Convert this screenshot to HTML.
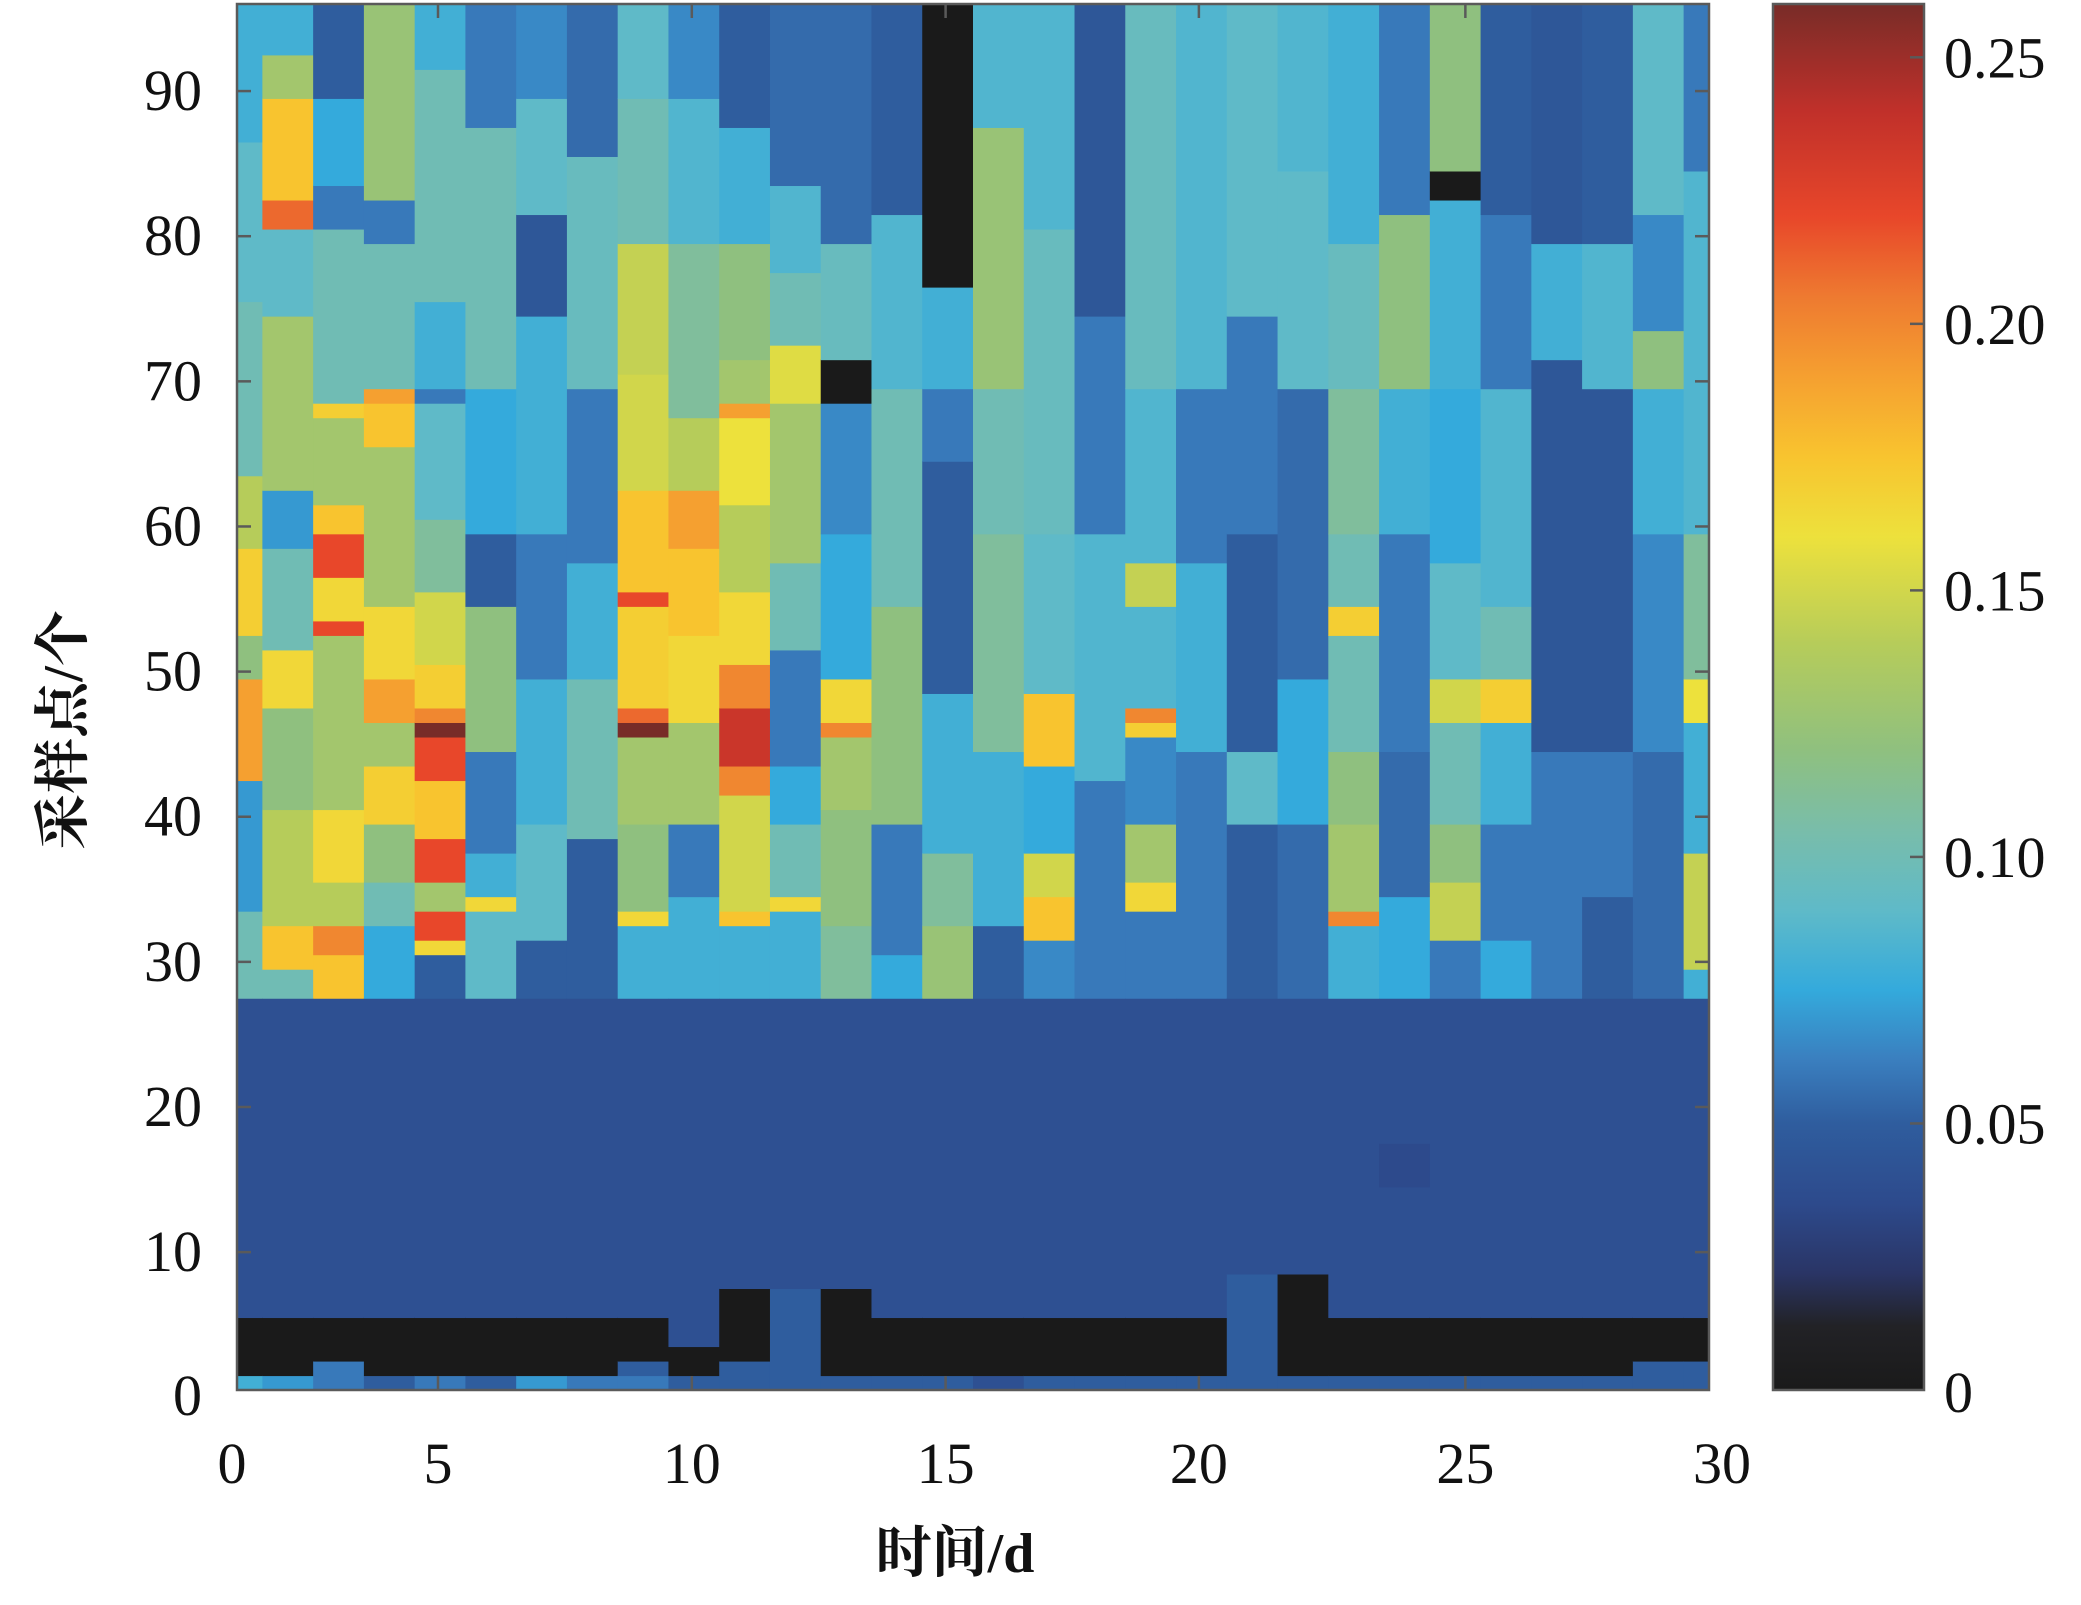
<!DOCTYPE html>
<html><head><meta charset="utf-8">
<style>
html,body{margin:0;padding:0;background:#fff;}
svg{display:block;}
text{font-family:"Liberation Serif","Noto Serif CJK SC",serif;fill:#111;}
</style></head>
<body>
<svg id="chart" width="2081" height="1605" viewBox="0 0 2081 1605" xmlns="http://www.w3.org/2000/svg">
<g id="cells"></g>
<g id="axes"></g>
<g id="cbar"></g>
<text x="955" y="1572" font-size="56" text-anchor="middle" font-family="Liberation Serif, Noto Serif CJK SC, serif" font-weight="bold">时间/d</text>
<text x="0" y="0" font-size="56" text-anchor="middle" font-weight="bold" transform="translate(82,730) rotate(-90)">采样点/个</text>
</svg>
<script>
// ---- data ----
const xTickValues = [0, 3.96, 8.96, 13.96, 18.95, 24.2, 29];
const xTickLabels = ['0','5','10','15','20','25','30'];
const yTickValues = [10,20,30,40,50,60,70,80,90];
const yTickLabels = ['10','20','30','40','50','60','70','80','90'];
const cbarTickValues = [0,0.05,0.10,0.15,0.20,0.25];
const cbarTickLabels = ['0','0.05','0.10','0.15','0.20','0.25'];
// per column runs: [fromRow, toRow, value]
const columnRuns = [
[[1,1,0.08],[2,5,0],[6,27,0.04],[28,33,0.1],[34,42,0.07],[43,49,0.19],[50,52,0.12],[53,58,0.17],[59,63,0.14],[64,75,0.1],[76,86,0.09],[87,96,0.08]],
[[1,1,0.07],[2,5,0],[6,27,0.04],[28,29,0.1],[30,32,0.175],[33,40,0.14],[41,47,0.12],[48,51,0.165],[52,58,0.1],[59,62,0.07],[63,74,0.13],[75,80,0.09],[81,82,0.21],[83,89,0.175],[90,92,0.13],[93,96,0.08]],
[[1,2,0.06],[3,5,0],[6,27,0.04],[28,30,0.175],[31,32,0.2],[33,35,0.14],[36,40,0.165],[41,52,0.13],[53,53,0.22],[54,56,0.165],[57,59,0.22],[60,61,0.175],[62,67,0.13],[68,68,0.17],[69,80,0.1],[81,83,0.06],[84,89,0.075],[90,96,0.05]],
[[1,1,0.05],[2,5,0],[6,27,0.04],[28,32,0.075],[33,35,0.1],[36,39,0.12],[40,43,0.17],[44,46,0.13],[47,49,0.19],[50,54,0.165],[55,65,0.13],[66,68,0.175],[69,69,0.19],[70,79,0.1],[80,82,0.06],[83,96,0.125]],
[[1,1,0.06],[2,5,0],[6,27,0.04],[28,30,0.05],[31,31,0.165],[32,33,0.22],[34,35,0.13],[36,38,0.22],[39,42,0.175],[43,45,0.22],[46,46,0.26],[47,47,0.2],[48,50,0.17],[51,55,0.15],[56,60,0.11],[61,68,0.09],[69,69,0.06],[70,75,0.08],[76,91,0.1],[92,96,0.08]],
[[1,1,0.05],[2,5,0],[6,27,0.04],[28,33,0.09],[34,34,0.165],[35,37,0.08],[38,44,0.06],[45,54,0.12],[55,59,0.05],[60,69,0.075],[70,87,0.1],[88,96,0.06]],
[[1,1,0.07],[2,5,0],[6,27,0.04],[28,31,0.05],[32,39,0.09],[40,49,0.08],[50,59,0.06],[60,74,0.08],[75,81,0.045],[82,89,0.09],[90,96,0.065]],
[[1,1,0.06],[2,5,0],[6,27,0.04],[28,38,0.05],[39,49,0.1],[50,57,0.08],[58,69,0.06],[70,85,0.095],[86,96,0.055]],
[[1,1,0.06],[2,2,0.05],[3,5,0],[6,27,0.04],[28,32,0.08],[33,33,0.165],[34,39,0.12],[40,45,0.13],[46,46,0.26],[47,47,0.21],[48,54,0.17],[55,55,0.22],[56,62,0.175],[63,70,0.15],[71,79,0.145],[80,89,0.1],[90,96,0.09]],
[[1,1,0.05],[2,3,0],[4,27,0.04],[28,34,0.08],[35,39,0.06],[40,46,0.13],[47,52,0.165],[53,58,0.175],[59,62,0.19],[63,67,0.14],[68,79,0.11],[80,89,0.085],[90,96,0.065]],
[[1,2,0.05],[3,7,0],[8,27,0.04],[28,32,0.08],[33,33,0.175],[34,41,0.15],[42,43,0.2],[44,47,0.235],[48,50,0.2],[51,55,0.165],[56,61,0.14],[62,67,0.16],[68,68,0.19],[69,71,0.13],[72,79,0.12],[80,87,0.08],[88,96,0.05]],
[[1,7,0.05],[8,27,0.04],[28,33,0.08],[34,34,0.165],[35,39,0.1],[40,43,0.075],[44,51,0.06],[52,57,0.1],[58,68,0.13],[69,72,0.155],[73,77,0.1],[78,83,0.085],[84,96,0.055]],
[[1,1,0.05],[2,7,0],[8,27,0.04],[28,32,0.11],[33,40,0.12],[41,45,0.13],[46,46,0.2],[47,49,0.165],[50,59,0.075],[60,68,0.065],[69,71,0],[72,79,0.095],[80,96,0.055]],
[[1,1,0.05],[2,5,0],[6,27,0.04],[28,30,0.075],[31,39,0.06],[40,54,0.12],[55,69,0.1],[70,81,0.085],[82,96,0.05]],
[[1,1,0.05],[2,5,0],[6,27,0.04],[28,32,0.125],[33,37,0.11],[38,48,0.08],[49,64,0.05],[65,69,0.06],[70,76,0.08],[77,96,0]],
[[1,1,0.04],[2,5,0],[6,27,0.04],[28,32,0.05],[33,44,0.08],[45,59,0.11],[60,69,0.1],[70,87,0.125],[88,96,0.085]],
[[1,1,0.05],[2,5,0],[6,27,0.04],[28,31,0.065],[32,34,0.175],[35,37,0.15],[38,43,0.075],[44,48,0.175],[49,59,0.09],[60,80,0.095],[81,96,0.085]],
[[1,1,0.05],[2,5,0],[6,27,0.04],[28,42,0.06],[43,59,0.085],[60,74,0.06],[75,96,0.045]],
[[1,1,0.05],[2,5,0],[6,27,0.04],[28,33,0.06],[34,35,0.165],[36,39,0.13],[40,45,0.065],[46,46,0.17],[47,47,0.2],[48,54,0.085],[55,57,0.145],[58,69,0.085],[70,96,0.095]],
[[1,1,0.05],[2,5,0],[6,27,0.04],[28,44,0.06],[45,57,0.08],[58,69,0.06],[70,96,0.085]],
[[1,8,0.05],[9,27,0.04],[28,39,0.05],[40,44,0.09],[45,59,0.05],[60,74,0.06],[75,96,0.09]],
[[1,1,0.05],[2,8,0],[9,27,0.04],[28,39,0.055],[40,49,0.075],[50,69,0.055],[70,84,0.09],[85,96,0.085]],
[[1,1,0.05],[2,5,0],[6,27,0.04],[28,32,0.08],[33,33,0.2],[34,39,0.13],[40,44,0.12],[45,52,0.1],[53,54,0.17],[55,59,0.1],[60,69,0.11],[70,79,0.095],[80,96,0.08]],
[[1,1,0.05],[2,5,0],[6,14,0.04],[15,17,0.035],[18,27,0.04],[28,34,0.075],[35,44,0.055],[45,59,0.06],[60,69,0.08],[70,81,0.12],[82,96,0.06]],
[[1,1,0.05],[2,5,0],[6,27,0.04],[28,31,0.06],[32,35,0.145],[36,39,0.12],[40,46,0.1],[47,49,0.15],[50,57,0.09],[58,69,0.075],[70,82,0.08],[83,84,0],[85,96,0.12]],
[[1,1,0.05],[2,5,0],[6,27,0.04],[28,31,0.075],[32,39,0.06],[40,46,0.08],[47,49,0.17],[50,54,0.1],[55,69,0.085],[70,81,0.06],[82,96,0.05]],
[[1,1,0.05],[2,5,0],[6,27,0.04],[28,44,0.06],[45,71,0.045],[72,79,0.08],[80,96,0.045]],
[[1,1,0.05],[2,5,0],[6,27,0.04],[28,34,0.05],[35,44,0.06],[45,69,0.045],[70,79,0.085],[80,96,0.05]],
[[1,2,0.05],[3,5,0],[6,27,0.04],[28,44,0.055],[45,59,0.065],[60,69,0.08],[70,73,0.12],[74,81,0.065],[82,96,0.09]],
[[1,2,0.05],[3,5,0],[6,27,0.04],[28,29,0.08],[30,37,0.145],[38,46,0.08],[47,49,0.16],[50,59,0.11],[60,84,0.085],[85,96,0.06]]
];
const colorStops = [[0,'#1a1a1a'],[0.012,'#222226'],[0.022,'#2a3566'],[0.035,'#2d4a8c'],[0.05,'#2f5d9e'],[0.062,'#3a7fbf'],[0.075,'#34aadc'],[0.09,'#5fbac8'],[0.105,'#79bdaa'],[0.12,'#8fc07f'],[0.14,'#b6cc5a'],[0.16,'#ede13c'],[0.175,'#f8c42f'],[0.19,'#f5a030'],[0.205,'#ee7a30'],[0.22,'#e8472a'],[0.24,'#c0302a'],[0.26,'#782c28']];
// ---- scales ----
const PX0=237, PX1=1709, PY0=1390, PY1=4;
const XMIN=0, XMAX=29, YMIN=0.5, YMAX=96;
const CB_X0=1773, CB_X1=1924, CMAX=0.26;
function xs(v){return PX0+(v-XMIN)/(XMAX-XMIN)*(PX1-PX0);}
function ys(v){return PY0-(v-YMIN)/(YMAX-YMIN)*(PY0-PY1);}
function cbs(v){return PY0-v/CMAX*(PY0-PY1);}
function hex(h){return [parseInt(h.substr(1,2),16),parseInt(h.substr(3,2),16),parseInt(h.substr(5,2),16)];}
function cmap(v){
  if(v<=colorStops[0][0])return colorStops[0][1];
  for(let i=1;i<colorStops.length;i++){
    if(v<=colorStops[i][0]){
      const a=colorStops[i-1],b=colorStops[i];const t=(v-a[0])/(b[0]-a[0]);
      const ca=hex(a[1]),cb=hex(b[1]);
      return 'rgb('+ca.map((c,j)=>Math.round(c+(cb[j]-c)*t)).join(',')+')';
    }
  }
  return colorStops[colorStops.length-1][1];
}
const NS='http://www.w3.org/2000/svg';
function mk(tag,attrs,parent){const e=document.createElementNS(NS,tag);for(const k in attrs)e.setAttribute(k,attrs[k]);parent.appendChild(e);return e;}
// ---- cells ----
const cells=document.getElementById('cells');
columnRuns.forEach((runs,ci)=>{
  const xa=Math.max(XMIN,ci-0.5), xb=Math.min(XMAX,ci+0.5);
  runs.forEach(r=>{
    const ya=Math.max(YMIN,r[0]-0.5), yb=Math.min(YMAX,r[1]+0.5);
    const rc=mk('rect',{x:xs(xa).toFixed(2),y:ys(yb).toFixed(2),width:(xs(xb)-xs(xa)+0.6).toFixed(2),height:(ys(ya)-ys(yb)+0.6).toFixed(2),fill:cmap(r[2])},cells);
    
    
  });
});
// ---- axes ----
const axes=document.getElementById('axes');
const frame=mk('rect',{x:PX0,y:PY1,width:PX1-PX0,height:PY0-PY1,fill:'none',stroke:'#5a5a5a','stroke-width':2.5},axes);


xTickValues.forEach((v,i)=>{
  const x=xs(v);
  if(i>0&&i<xTickValues.length-1){
    mk('line',{x1:x,x2:x,y1:PY0,y2:PY0-14,stroke:'#5a5a5a','stroke-width':2.5},axes);
    mk('line',{x1:x,x2:x,y1:PY1,y2:PY1+14,stroke:'#5a5a5a','stroke-width':2.5},axes);
  }
  const t=mk('text',{x:(i===0?232:(i===6?1722:x)),y:1483,'font-size':58,'text-anchor':'middle'},axes);
  t.textContent=xTickLabels[i];
  
  
});
yTickValues.forEach((v,i)=>{
  const y=ys(v);
  mk('line',{x1:PX0,x2:PX0+14,y1:y,y2:y,stroke:'#5a5a5a','stroke-width':2.5},axes);
  mk('line',{x1:PX1,x2:PX1-14,y1:y,y2:y,stroke:'#5a5a5a','stroke-width':2.5},axes);
  const t=mk('text',{x:202,y:y+19,'font-size':58,'text-anchor':'end'},axes);
  t.textContent=yTickLabels[i];
  
  
});
const y0=mk('text',{x:202,y:1415,'font-size':58,'text-anchor':'end'},axes);
y0.textContent='0';


// ---- colorbar ----
const cbar=document.getElementById('cbar');
const defs=mk('defs',{},cbar);
const lg=mk('linearGradient',{id:'cg',x1:0,y1:1,x2:0,y2:0},defs);
colorStops.forEach(s=>{mk('stop',{offset:(s[0]/CMAX*100).toFixed(2)+'%','stop-color':s[1]},lg);});
const cb=mk('rect',{x:CB_X0,y:PY1,width:CB_X1-CB_X0,height:PY0-PY1,fill:'url(#cg)',stroke:'#5a5a5a','stroke-width':2.5},cbar);


cbarTickValues.forEach((v,i)=>{
  const y=cbs(v);
  if(i>0)mk('line',{x1:CB_X1,x2:CB_X1-14,y1:y,y2:y,stroke:'#5a5a5a','stroke-width':2.5},cbar);
  const t=mk('text',{x:1944,y:(i===0?1412:y+20),'font-size':58},cbar);
  t.textContent=cbarTickLabels[i];
  
  
});
</script>
</body></html>
